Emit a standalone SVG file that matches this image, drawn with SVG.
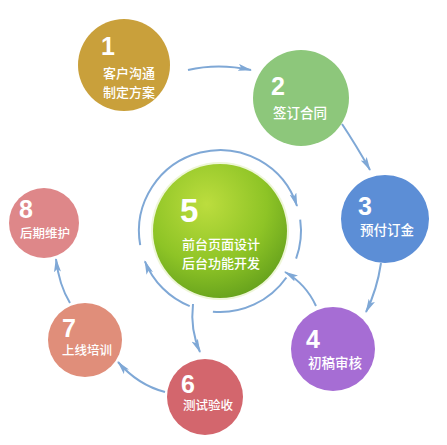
<svg xmlns="http://www.w3.org/2000/svg" width="447" height="445" viewBox="0 0 447 445">
<style>
.num{font-family:"Liberation Sans","Noto Sans CJK SC",sans-serif;font-weight:bold;fill:#fff;font-size:25px}
.lbl{font-family:"Noto Sans CJK SC","Liberation Sans",sans-serif;font-weight:500;fill:#fff;font-size:13px}
.con{fill:none;stroke:#7FA8D6;stroke-width:2}
</style>
<defs>
<marker id="ah" viewBox="0 0 14 7" markerWidth="14" markerHeight="7" refX="13" refY="3.5" orient="auto" markerUnits="userSpaceOnUse">
<path d="M0,0 L14,3.5 L0,7 L3,3.5 z" fill="#7FA8D6"/>
</marker>
<radialGradient id="g5" cx="0.4" cy="0.3" r="0.75">
<stop offset="0" stop-color="#BCDD3E"/>
<stop offset="0.6" stop-color="#8EC426"/>
<stop offset="1" stop-color="#64A01C"/>
</radialGradient>
</defs>
<rect width="447" height="445" fill="#fff"/>
<g id="connectors">
<path class="con" d="M188,70 Q218,63 251,70" marker-end="url(#ah)"/>
<path class="con" d="M342,124 Q356,145 370,170" marker-end="url(#ah)"/>
<path class="con" d="M381,263 Q377,290 366,312" marker-end="url(#ah)"/>
<path class="con" d="M316,306 Q306,284 285,272" marker-end="url(#ah)"/>
<path class="con" d="M193,304 Q190,330 200,352" marker-end="url(#ah)"/>
<path class="con" d="M165,392 Q138,385 118,362" marker-end="url(#ah)"/>
<path class="con" d="M70,303 Q59,285 56,259" marker-end="url(#ah)"/>
<path class="con" d="M140.2,245.1 A81,81 0 0 1 297,206" marker-end="url(#ah)"/>
<path class="con" d="M300.2,219.7 A81,81 0 0 1 296.1,258.7"/>
<path class="con" d="M286.4,277.5 A81,81 0 0 1 212.9,311.7"/>
<path class="con" d="M189.7,306.1 A81,81 0 0 1 144.9,261.3" marker-end="url(#ah)"/>
</g>
<g id="n1">
<circle cx="124" cy="65" r="46" fill="#C9A03B"/>
<text class="num" x="101" y="55">1</text>
<text class="lbl" x="103" y="78">客户沟通</text>
<text class="lbl" x="103" y="97">制定方案</text>
</g>
<g id="n2">
<circle cx="301" cy="98" r="48" fill="#8DC77B"/>
<text class="num" x="271" y="95">2</text>
<text class="lbl" x="273" y="118" style="font-size:13.5px">签订合同</text>
</g>
<g id="n3">
<circle cx="385" cy="219" r="44" fill="#5C8ED6"/>
<text class="num" x="358" y="215">3</text>
<text class="lbl" x="360" y="235" style="font-size:13.5px">预付订金</text>
</g>
<g id="n4">
<circle cx="333" cy="349" r="42" fill="#A66DD4"/>
<text class="num" x="306" y="348">4</text>
<text class="lbl" x="308" y="368" style="font-size:13.5px">初稿审核</text>
</g>
<g id="n5">
<circle cx="220" cy="231" r="69" fill="#EEF6D8"/>
<circle cx="220" cy="231" r="67" fill="url(#g5)"/>
<text class="num" x="180" y="222" style="font-size:33px">5</text>
<text class="lbl" x="182" y="249">前台页面设计</text>
<text class="lbl" x="182" y="268">后台功能开发</text>
</g>
<g id="n6">
<circle cx="205" cy="397" r="38" fill="#D3666D"/>
<text class="num" x="181" y="393">6</text>
<text class="lbl" x="183" y="410" style="font-size:12.5px">测试验收</text>
</g>
<g id="n7">
<circle cx="85" cy="340" r="37" fill="#E08E7A"/>
<text class="num" x="62" y="337">7</text>
<text class="lbl" x="62" y="355" style="font-size:12.5px">上线培训</text>
</g>
<g id="n8">
<circle cx="44" cy="223" r="35" fill="#DE8789"/>
<text class="num" x="19" y="218">8</text>
<text class="lbl" x="20" y="238" style="font-size:12.5px">后期维护</text>
</g>
</svg>
